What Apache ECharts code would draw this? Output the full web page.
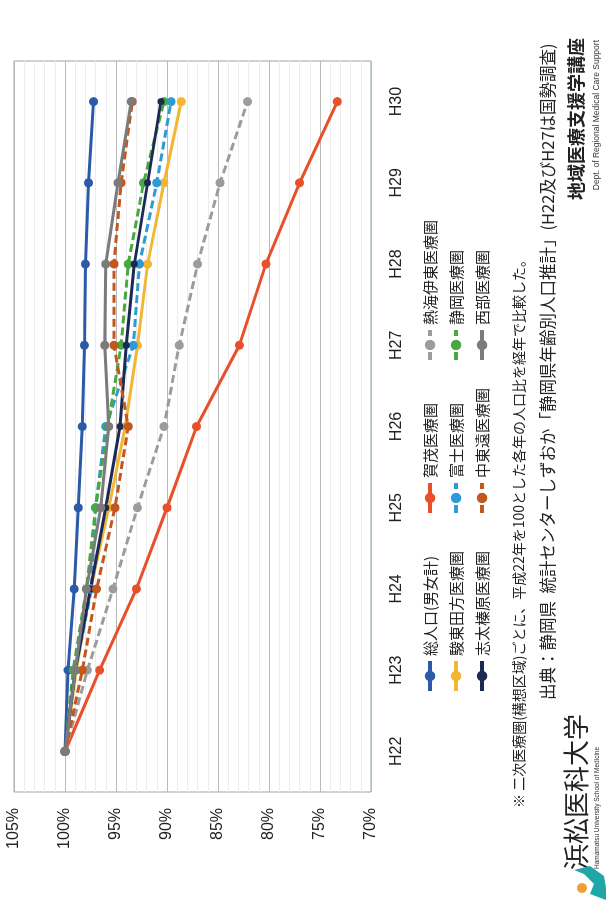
<!DOCTYPE html>
<html>
<head>
<meta charset="utf-8">
<script src="https://cdn.jsdelivr.net/npm/echarts@6/dist/echarts.min.js"></script>
<style>
  html, body { margin: 0; padding: 0; background: #fff; }
  body { width: 606px; height: 902px; overflow: hidden; position: relative; }
  /* the slide is laid out in landscape and turned a quarter turn */
  #chart {
    position: absolute; left: 0; top: 0;
    width: 902px; height: 606px;
    transform-origin: 0 0;
    transform: translate(0, 902px) rotate(-90deg);
  }
</style>
</head>
<body>
<div id="chart"></div>
<script>
// 年度（平成）
const years = ['H22', 'H23', 'H24', 'H25', 'H26', 'H27', 'H28', 'H29', 'H30'];

// 平成22年を100とした人口比（%）
const total    = [100, 99.7, 99.1, 98.7, 98.3, 98.1, 98.0, 97.7, 97.2]; // 総人口(男女計)
const kamo     = [100, 96.6, 93.0, 90.0, 87.1, 82.9, 80.3, 77.0, 73.3]; // 賀茂医療圏
const atami    = [100, 97.8, 95.3, 92.9, 90.3, 88.8, 87.0, 84.8, 82.1]; // 熱海伊東医療圏
const sunto    = [100, 98.9, 97.5, 95.7, 94.1, 92.9, 91.9, 90.3, 88.6]; // 駿東田方医療圏
const fuji     = [100, 99.0, 97.4, 97.0, 96.0, 93.3, 92.7, 91.0, 89.6]; // 富士医療圏
const shizuoka = [100, 99.2, 97.9, 97.0, 95.8, 94.5, 93.8, 92.3, 90.3]; // 静岡医療圏
const shida    = [100, 99.0, 97.5, 96.0, 94.6, 94.0, 93.2, 91.9, 90.6]; // 志太榛原医療圏
const chutoen  = [100, 98.3, 96.9, 95.1, 93.8, 95.2, 95.2, 94.5, 93.4]; // 中東遠医療圏
const seibu    = [100, 99.0, 97.9, 96.5, 95.7, 96.1, 96.0, 94.8, 93.5]; // 西部医療圏

const legendCol1 = ['総人口(男女計)', '駿東田方医療圏', '志太榛原医療圏'];
const legendCol2 = ['賀茂医療圏', '富士医療圏', '中東遠医療圏'];
const legendCol3 = ['熱海伊東医療圏', '静岡医療圏', '西部医療圏'];

const FONT = '"Liberation Sans", "Noto Sans CJK JP", sans-serif';
const JP = '"Noto Sans CJK JP", sans-serif';

function line(name, data, color, dashed, size) {
  return {
    name, type: 'line', data,
    symbol: 'circle', symbolSize: size || 9,
    itemStyle: { color },
    lineStyle: { color, width: 3, type: dashed ? [8, 4] : 'solid' },
    emphasis: { disabled: true },
    animation: false
  };
}

function legendColumn(data, left) {
  return {
    data, orient: 'vertical', left, top: 417,
    itemWidth: 30, itemHeight: 13, itemGap: 10,
    lineStyle: { width: 4 },
    textStyle: { fontSize: 15, fontFamily: JP, color: '#222', lineHeight: 16 },
    selectedMode: false
  };
}

const chart = echarts.init(document.getElementById('chart'), null, { renderer: 'canvas' });
chart.setOption({
  backgroundColor: '#fff',
  textStyle: { fontFamily: FONT },
  grid: {
    left: 110, top: 14, width: 731, height: 357,
    show: true, borderColor: '#93a8a8', borderWidth: 1, backgroundColor: 'transparent'
  },
  xAxis: {
    type: 'category', data: years, boundaryGap: true,
    axisLine: { show: false }, axisTick: { show: false },
    axisLabel: { fontSize: 16, color: '#222', margin: 18, fontFamily: FONT }
  },
  yAxis: {
    type: 'value', min: 70, max: 105, interval: 5,
    axisLine: { show: false }, axisTick: { show: false },
    axisLabel: { fontSize: 16, color: '#222', margin: 16, formatter: '{value}%', fontFamily: FONT },
    splitLine: { show: true, lineStyle: { color: '#b9b9b9', width: 1 } },
    minorTick: { show: false, splitNumber: 5 },
    minorSplitLine: { show: true, lineStyle: { color: '#ececec', width: 1 } }
  },
  legend: [legendColumn(legendCol1, 204), legendColumn(legendCol2, 382), legendColumn(legendCol3, 535)],
  series: [
    line('総人口(男女計)', total, '#2b5ba8', false),
    line('賀茂医療圏', kamo, '#e8502a', false),
    line('熱海伊東医療圏', atami, '#9c9c9c', true),
    line('駿東田方医療圏', sunto, '#f2b632', false),
    line('富士医療圏', fuji, '#2e9bd6', true),
    line('静岡医療圏', shizuoka, '#48a942', true),
    line('志太榛原医療圏', shida, '#1b2a55', false, 7),
    line('中東遠医療圏', chutoen, '#c4571e', true),
    line('西部医療圏', seibu, '#7b7b7b', false)
  ],
  graphic: [
    { type: 'text', left: 94, top: 512,
      style: { text: '※ 二次医療圏(構想区域)ごとに、平成22年を100とした各年の人口比を経年で比較した。',
               font: '14px ' + JP, fill: '#222' } },
    { type: 'text', left: 202, top: 539,
      style: { text: '出典：静岡県  統計センターしずおか「静岡県年齢別人口推計」(H22及びH27は国勢調査)',
               font: '16.5px ' + JP, fill: '#222' } },
    { type: 'text', left: 702, top: 567,
      style: { text: '地域医療支援学講座', font: 'bold 18px ' + JP, fill: '#222' } },
    { type: 'text', right: 40, top: 592,
      style: { text: 'Dept. of Regional Medical Care Support', font: '8.5px ' + FONT, fill: '#333' } },
    { type: 'text', left: 32, top: 563,
      style: { text: '浜松医科大学', font: '26px ' + JP, fill: '#222' } },
    { type: 'text', left: 33, top: 594,
      style: { text: 'Hamamatsu University School of Medicine', font: '6.5px ' + FONT, fill: '#333' } },
    // school mark
    { type: 'polygon', shape: { points: [[2, 606], [8, 590], [18, 594], [28, 584], [32, 574], [36, 590], [26, 604], [14, 606]] },
      style: { fill: '#1fa6a8' } },
    { type: 'circle', shape: { cx: 14, cy: 582, r: 5 }, style: { fill: '#f0a030' } }
  ]
});
</script>
</body>
</html>
